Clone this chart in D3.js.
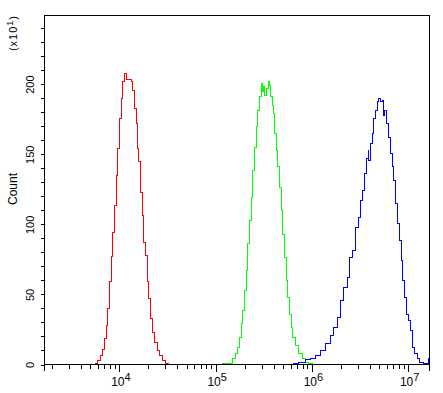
<!DOCTYPE html>
<html>
<head>
<meta charset="utf-8">
<script src="https://cdn.jsdelivr.net/npm/d3@7/dist/d3.min.js"></script>
<style>
  body { margin: 0; background: #fff; }
  svg { display: block; }
  text { font-family: "Liberation Sans", Arial, sans-serif; fill: #000; }
</style>
</head>
<body>
<svg id="chart"></svg>
<script>
// flow histogram, three overlaid channels
var W = 443, H = 393;
var margin = {top: 15, right: 14, bottom: 29, left: 44};

// fluorescence intensity (x) and count in units of 10 (y)
var redX = [5540, 5870, 6350, 6710, 6990, 7280, 7560, 7870, 8200, 8520, 8870, 9240, 9600, 10000,
  10420, 10820, 11350, 11820, 12490, 13230, 13750, 14210, 14910, 15380, 15870, 16530, 17220,
  17890, 18630, 19410, 20160, 20990, 21860, 23100, 24650, 26040, 27770, 30060, 32060];
var redY = [0.5, 3, 6.4, 11, 18.6, 28, 40, 59, 77, 94.5, 113.6, 135, 154, 175.5,
  190, 201.7, 207.6, 203, 203, 201.7, 195.7, 182.6, 172, 154, 144.5, 123, 106,
  87, 78, 59, 47, 32.6, 23, 16, 10, 6.4, 3, 0.5, 0];

var greenX = [103500, 116700, 136600, 148300, 160400, 169500, 176500, 183800, 191000, 198900,
  207200, 215300, 224200, 233600, 242700, 252800, 263300, 273500, 284800, 296700, 303900,
  311200, 321000, 334400, 350700, 361800, 370600, 386000, 395400, 407900, 424800, 441300,
  459600, 478600, 497300, 518000, 539500, 560600, 583800, 608000, 631700, 674000, 729500,
  791000, 855900, 926400, 1005000];
var greenY = [0, 0.5, 1, 4, 7.6, 12.4, 19.5, 29, 38.6, 52.9,
  67, 86, 103, 119.5, 138.6, 155, 169.5, 181, 191, 200.5, 194.5,
  198, 192, 197, 201.6, 199, 191, 185, 179, 165, 153, 141,
  126.6, 110, 93, 76.6, 60, 48, 36, 26.6, 19.5, 13.6, 7.6,
  4, 1.6, 0.5, 0];

var blueX = [597900, 647000, 729500, 855900, 964700, 1087500, 1225600, 1381600, 1556900,
  1684400, 1827000, 1977300, 2140000, 2321000, 2452000, 2616000, 2831000, 3020000, 3191000,
  3372000, 3537000, 3683000, 3836000, 3891000, 4053000, 4221000, 4385000, 4567000, 4791000,
  4943000, 5185000, 5362000, 5532000, 5706000, 5943000, 6234000, 6539000, 6810000, 7077000,
  7370000, 7731000, 8052000, 8447000, 8777000, 9209000, 9590000, 10060000, 10550000,
  11070000, 11700000, 12390000, 13090000, 14510000, 16300000, 16667000];
var blueY = [0, 0.5, 1.6, 3.3, 4, 6.4, 10, 14.8, 20.7,
  26.6, 33.8, 45.7, 55, 62.4, 76.6, 81.4, 98, 105, 117,
  124, 136, 147, 153, 145.7, 157.6, 164.8, 175.5, 181.4, 187.4,
  189.8, 187.4, 188.6, 177.9, 181.4, 172, 162, 150.5, 141, 131.4,
  114.8, 100.5, 88.6, 74.3, 60, 48, 36, 31.4, 24.3,
  12.4, 7.6, 4, 1.6, 0.5, 4, 4];

var yTicks = d3.range(0, 250, 10);
var yLabels = [0, 50, 100, 150, 200];
var xDecades = [1e4, 1e5, 1e6, 1e7];
var xExponents = ["4", "5", "6", "7"];
var xMinor = [2e3, 3e3, 4e3, 5e3, 6e3, 7e3, 8e3, 9e3,
  2e4, 3e4, 4e4, 5e4, 6e4, 7e4, 8e4, 9e4,
  2e5, 3e5, 4e5, 5e5, 6e5, 7e5, 8e5, 9e5,
  2e6, 3e6, 4e6, 5e6, 6e6, 7e6, 8e6, 9e6];

var svg = d3.select("#chart")
  .attr("width", W)
  .attr("height", H);

var g = svg.append("g")
  .attr("transform", "translate(0.5,0.5)")
  .attr("shape-rendering", "crispEdges");

var x = d3.scaleLog()
  .domain([1667, 16667000])
  .range([margin.left, W - margin.right]);

var y = d3.scaleLinear()
  .domain([0, 249])
  .range([H - margin.bottom, margin.top]);

// curves
var series = [
  {xs: redX, ys: redY, color: "#ff0000"},
  {xs: greenX, ys: greenY, color: "#00ff00"},
  {xs: blueX, ys: blueY, color: "#0000ff"}
];

var line = d3.line()
  .x(d => x(d[0]))
  .y(d => y(d[1]))
  .curve(d3.curveStepAfter);

series.forEach(s => {
  g.append("path")
    .datum(d3.zip(s.xs, s.ys))
    .attr("fill", "none")
    .attr("stroke", s.color)
    .attr("stroke-width", 1)
    .attr("d", line);
});

// frame
var x0 = x.range()[0], x1 = x.range()[1];
var yTop = y.range()[1], yBot = y.range()[0];
g.append("path")
  .attr("fill", "none")
  .attr("stroke", "#000")
  .attr("d", `M${x0},${yBot + 6}V${yTop}H${x1}V${yBot + 6}M${x0},${yBot}H${x1}`);

// y axis
var yAxis = g.append("g")
  .attr("transform", `translate(${x0},0)`)
  .call(d3.axisLeft(y)
    .tickValues(yTicks)
    .tickSize(4)
    .tickSizeOuter(0)
    .tickFormat(d => yLabels.includes(d) ? d : ""));
yAxis.select(".domain").remove();
yAxis.selectAll("line").attr("stroke", "#000");
yAxis.selectAll("text")
  .attr("x", null)
  .attr("dy", null)
  .attr("transform", "translate(-11,0) rotate(-90)")
  .attr("text-anchor", "middle")
  .style("font-size", "11px")
  .style("font-family", "'Liberation Sans', Arial, sans-serif")
  .attr("fill", "#000");

// x axis: minor ticks
var xMinorAxis = g.append("g")
  .attr("transform", `translate(0,${yBot})`)
  .call(d3.axisBottom(x)
    .tickValues(xMinor)
    .tickSize(4)
    .tickSizeOuter(0)
    .tickFormat(""));
xMinorAxis.select(".domain").remove();
xMinorAxis.selectAll("line").attr("stroke", "#000");

// x axis: decades with labels
var xMajorAxis = g.append("g")
  .attr("transform", `translate(0,${yBot})`)
  .call(d3.axisBottom(x)
    .tickValues(xDecades)
    .tickSize(7)
    .tickSizeOuter(0)
    .tickFormat(""));
xMajorAxis.select(".domain").remove();
xMajorAxis.selectAll("line").attr("stroke", "#000");
xMajorAxis.selectAll(".tick").each(function (d, i) {
  var t = d3.select(this).select("text")
    .attr("y", null)
    .attr("dy", null)
    .attr("x", 1)
    .attr("y", 21)
    .attr("text-anchor", "middle")
    .style("font-size", "12px")
    .style("font-family", "'Liberation Sans', Arial, sans-serif")
    .attr("fill", "#000");
  t.append("tspan").text("10");
  t.append("tspan")
    .attr("dy", -5)
    .style("font-size", "11px")
    .text(xExponents[i]);
});

// axis titles
svg.append("text")
  .attr("transform", "translate(17,33) rotate(-90)")
  .attr("text-anchor", "middle")
  .style("font-size", "11px")
  .style("letter-spacing", "1px")
  .call(t => {
    t.append("tspan").text("(x10");
    t.append("tspan").attr("dy", -4).style("font-size", "9px").text("1");
    t.append("tspan").attr("dy", 4).text(")");
  });

svg.append("text")
  .attr("transform", "translate(17,189) rotate(-90)")
  .attr("text-anchor", "middle")
  .style("font-size", "12px")
  .text("Count");
</script>
</body>
</html>
